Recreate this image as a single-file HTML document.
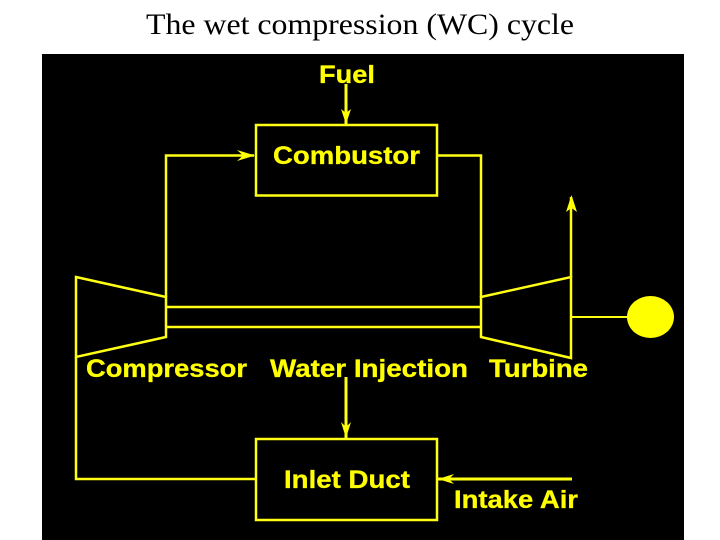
<!DOCTYPE html>
<html><head><meta charset="utf-8"><style>
html,body{margin:0;padding:0;background:#fff}
svg{display:block}
.l{font-family:"Liberation Sans",sans-serif;font-weight:bold;font-size:25px;fill:#ff0;stroke:#ff0;stroke-width:.3px}
</style></head><body>
<svg width="720" height="540" viewBox="0 0 720 540" xmlns="http://www.w3.org/2000/svg">
<rect width="720" height="540" fill="#fff"/>
<text x="146" y="34" font-family="'Liberation Serif',serif" font-size="30" fill="#000" textLength="428" lengthAdjust="spacingAndGlyphs">The wet compression (WC) cycle</text>
<rect x="42" y="54" width="642" height="486" fill="#000"/>
<g fill="none" stroke="#ffff14" stroke-width="2.500">
<rect x="256" y="125" width="181" height="70.500"/>
<rect x="256" y="439" width="181" height="81"/>
<path d="M346 84V125" stroke-width="3"/>
<path d="M166 297V155.500H254"/>
<path d="M437 155.500H481V297"/>
<path d="M76 277L166 297V337L76 357Z"/>
<path d="M481 297L571 277V358L481 337Z"/>
<path d="M166 307H481M166 327H481"/>
<path d="M571 277V197"/>
<path d="M571 317H628" stroke-width="2"/>
<path d="M76 357V479H256"/>
<path d="M346 377V439" stroke-width="3"/>
<path d="M572 479H438" stroke-width="3"/>
</g>
<g fill="#ff0">
<path d="M346 124L341 109L346 113L351 109Z"/>
<path d="M255 155.500L237 150L243 155.500L237 161Z"/>
<path d="M571.500 195L566 212L571.500 208L577 212Z"/>
<path d="M346 438L341 422L346 427L351 422Z"/>
<path d="M438 479L454 474L449 479L454 484Z"/>
<ellipse cx="650.500" cy="317" rx="23.500" ry="21"/>
</g>
<g class="l">
<text x="319" y="83" textLength="56" lengthAdjust="spacingAndGlyphs">Fuel</text>
<text x="273" y="164" textLength="147" lengthAdjust="spacingAndGlyphs">Combustor</text>
<text x="86" y="377" textLength="161" lengthAdjust="spacingAndGlyphs">Compressor</text>
<text x="270" y="377" textLength="198" lengthAdjust="spacingAndGlyphs">Water Injection</text>
<text x="489" y="377" textLength="99" lengthAdjust="spacingAndGlyphs">Turbine</text>
<text x="284" y="488" textLength="126" lengthAdjust="spacingAndGlyphs">Inlet Duct</text>
<text x="454" y="508" textLength="124" lengthAdjust="spacingAndGlyphs">Intake Air</text>
</g>
</svg>
</body></html>
